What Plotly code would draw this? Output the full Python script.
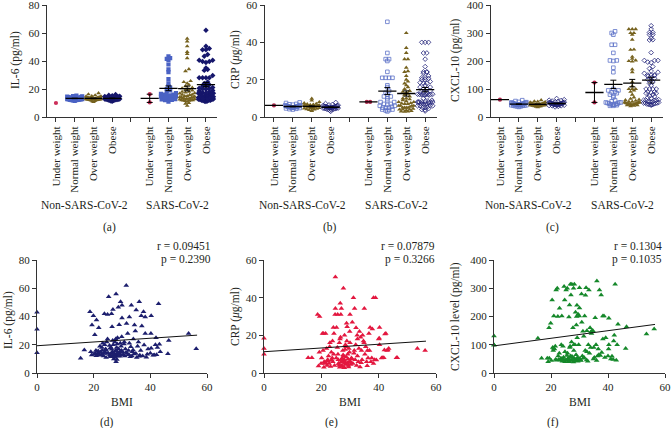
import numpy as np
import plotly.graph_objects as go

W, H = 671, 428
FONT = "Liberation Serif, DejaVu Serif, serif"
TXT = "#231f20"

groups = ["Under weight", "Normal weight", "Over weight", "Obese"]
cohorts = ["Non-SARS-CoV-2", "SARS-CoV-2"]
panel_labels = ["(a)", "(b)", "(c)", "(d)", "(e)", "(f)"]
top_titles = ["IL-6 (pg/ml)", "CRP (<i>μ</i>g/ml)", "CXCL-10 (pg/ml)"]
bottom_titles = ["IL-6 (pg/ml)", "CRP (<i>μ</i>g/ml)", "CXCL-10 level (pg/ml)"]
r_text = ["0.09451", "0.07879", "0.1304"]
p_text = ["0.2390", "0.3266", "0.1035"]

# SARS-CoV-2 patients (BMI and marker levels)
bmi = [15.4, 16.7, 0, 0, 0,
       18.7, 19.0, 19.3, 19.4, 19.9, 20.4, 20.6, 20.8, 21.0, 21.2,
       21.5, 21.8, 22.0, 22.2, 22.5, 22.7, 23.0, 23.2, 23.5, 23.8,
       24.0, 24.2, 24.4, 24.6, 24.8, 24.9, 20.1, 21.6, 22.9, 23.6,
       24.3, 20.9, 22.4, 23.9, 25.3, 24.9, 25.7, 25.9, 26.1, 26.3,
       26.5, 26.6, 26.8, 26.9, 27.0, 27.1, 27.2, 27.3, 27.5, 27.7,
       27.8, 27.9, 27.9, 28.0, 28.1, 28.2, 28.4, 28.5, 28.6, 28.7,
       28.8, 29.0, 29.0, 29.2, 29.3, 29.4, 29.5, 29.6, 29.7, 29.8,
       29.9, 25.2, 25.8, 26.2, 26.7, 27.4, 28.3, 28.9, 26.4, 27.6,
       29.1, 25.6, 27.0, 28.0, 26.0, 30.0, 30.0, 30.2, 30.5, 30.8,
       31.0, 31.2, 31.5, 31.6, 31.8, 32.0, 32.3, 32.5, 32.6, 32.6,
       32.9, 33.1, 33.3, 33.5, 33.7, 34.0, 34.2, 34.4, 34.7, 35.0,
       35.2, 35.5, 35.8, 36.1, 36.3, 36.6, 36.8, 37.0, 37.3, 37.6,
       37.8, 38.2, 38.2, 38.6, 38.9, 39.2, 40.0, 40.2, 40.3, 40.3,
       41.0, 41.4, 41.8, 42.0, 42.2, 42.5, 42.9, 43.2, 43.5, 46.2,
       46.5, 53.5, 56.2, 30.3, 31.4, 33.9, 34.9, 36.0, 30.7, 32.1]
il6 = [10.4, 16.3, 43, 31, 14.4,
       43.4, 15, 12.7, 34, 40.6, 27, 14, 16, 37.5, 13,
       14, 32, 12.5, 19, 14.5, 13, 16, 21, 12, 42,
       15, 17, 11, 22, 14, 41.5, 13.5, 15.5, 18, 13.8,
       16.5, 12.2, 14.8, 20, 54, 24, 13, 12, 18, 42,
       32.8, 15, 45, 20, 12.5, 10, 11.6, 14, 22, 16,
       24, 56, 8, 13, 18, 9.5, 25, 14.5, 12, 46.5,
       17, 34.2, 13.5, 11.8, 15, 21, 50.5, 13, 19, 16,
       25.7, 14, 17.5, 13.8, 23, 12, 20.5, 14.2, 16.8, 11,
       12.8, 19.5, 13.2, 15.8, 11.5, 48, 39, 15, 13, 22,
       12, 17, 62, 35, 14, 28, 16, 13, 39.6, 21,
       11.5, 18.5, 48, 12, 15, 24, 13.5, 34, 29.7, 44.6,
       11, 19, 22, 50.5, 12.5, 16, 40.6, 33.3, 12, 43.4,
       19.8, 39.6, 28, 11.2, 13.2, 17, 14, 28, 17.5, 40.6,
       12.5, 12.7, 20, 25, 13, 18, 49, 20.3, 15, 13.7,
       23, 28, 17.2, 12.8, 14.5, 16.2, 13.8, 11.8, 20.5, 13]
crp = [8.1, 8.1, 18.4, 13, 10,
       31, 3.7, 11, 30, 5, 21, 12, 21, 6, 5,
       21, 13, 4, 7, 9, 5, 16, 3.5, 11, 8,
       6, 24.2, 21, 4, 31, 34.3, 8, 5.5, 14, 7,
       10, 3, 6.5, 17, 24.2, 51, 31, 7, 5, 16,
       18, 37, 31, 6, 34.3, 4, 3.5, 8, 12, 45,
       9, 5, 3, 7, 20, 6, 15, 4.5, 14, 8.5,
       26.4, 24.6, 5, 10, 7.5, 4, 3.2, 13, 6, 11,
       22, 8, 10, 4, 19, 6, 12.5, 17, 3, 9.5,
       5.5, 13.5, 7.2, 2.8, 5, 16, 31, 6, 8, 27,
       5, 40, 12, 34.3, 7, 15, 4, 20, 9, 18,
       6, 13, 22, 3.2, 19, 12, 7, 20, 17, 34.3,
       10, 14, 6, 12, 8, 21, 12, 24.2, 6, 8,
       23.4, 40, 5, 7, 40, 6.9, 18, 18.4, 24.2, 15,
       8, 8.1, 8.1, 12.2, 20.7, 21, 11.9, 12.2, 13, 8.1,
       8.1, 13, 12, 4.5, 10.5, 5.5, 16, 3.8, 7.5, 24]
cxcl10 = [123, 52, 131, 99, 99,
          52, 40, 160, 52, 176, 258, 90, 80, 202, 85,
          95, 294, 45, 300, 60, 48, 229, 46, 52, 202,
          42, 95, 56, 306, 258, 40, 44, 48, 70, 100,
          50, 88, 200, 44, 294, 75, 300, 48, 42, 198,
          241, 90, 314, 60, 55, 44, 110, 314, 45, 160,
          50, 39, 300, 80, 52, 314, 100, 47, 215, 43,
          65, 200, 48, 125, 55, 42, 208, 46, 100, 52,
          202, 46, 70, 50, 95, 58, 44, 170, 40, 48,
          240, 62, 276, 100, 52, 230, 302, 50, 44, 180,
          60, 148, 130, 55, 202, 80, 302, 46, 150, 75,
          42, 100, 294, 70, 160, 145, 140, 150, 150, 90,
          55, 196, 100, 326, 60, 85, 65, 294, 62, 276,
          73, 202, 120, 202, 55, 125, 60, 85, 194, 100,
          50, 59, 48, 113, 134, 314, 45, 100, 173, 87,
          164, 138, 156, 46, 52, 90, 50, 44, 280, 275]

# Non-SARS-CoV-2 controls
ctrl_il6_under = [10.0]
ctrl_il6_normal = [12.1, 12.5, 12.8, 13.0, 13.2, 13.5, 13.8, 14.2, 14.6, 15.0, 11.8, 12.3, 12.9, 13.1, 13.4,
                   13.7, 14.0, 14.4, 12.0, 12.6, 13.3, 13.6, 12.7, 13.9, 15.3, 11.5, 12.4, 13.0, 14.8, 13.2,
                   12.2, 13.5, 14.1, 12.9, 13.3]
ctrl_il6_over = [10.8, 11.5, 12.0, 12.3, 12.6, 12.9, 13.1, 13.3, 13.6, 13.9, 14.3, 14.8, 15.5, 16.2, 17.0,
                 11.8, 12.2, 12.5, 12.8, 13.0, 13.2, 13.5, 13.8, 14.1, 14.6, 12.4, 12.7, 13.0, 13.4, 12.9,
                 11.2, 13.7, 12.1, 14.0, 15.0]
ctrl_il6_obese = [11.2, 11.8, 12.2, 12.5, 12.8, 13.0, 13.2, 13.4, 13.7, 14.0, 14.4, 14.9, 15.5, 16.0, 12.0,
                  12.4, 12.7, 12.9, 13.1, 13.3, 13.6, 13.9, 14.2, 12.6, 13.0, 13.5, 12.3, 14.6, 11.5, 13.8,
                  12.9, 13.2, 15.2, 12.1, 13.4, 14.1, 12.8, 13.6]
ctrl_crp_under = [6.2]
ctrl_crp_normal = [4.0, 4.4, 4.8, 5.0, 5.2, 5.4, 5.6, 5.8, 6.0, 6.3, 6.6, 7.0, 7.5, 4.6, 5.1, 5.3, 5.5, 5.7,
                   5.9, 6.1, 4.2, 4.9, 5.4, 6.4, 6.8, 5.2, 5.6, 7.8, 5.0, 5.8]
ctrl_crp_over = [3.2, 3.8, 4.2, 4.6, 4.9, 5.1, 5.3, 5.5, 5.7, 5.9, 6.2, 6.5, 6.9, 7.4, 8.0, 8.8, 9.8, 4.4,
                 5.0, 5.4, 5.6, 5.8, 6.0, 6.3, 4.8, 5.2, 5.5, 6.7, 3.6, 7.1, 5.9, 4.1, 6.1, 5.3]
ctrl_crp_obese = [3.0, 3.6, 4.0, 4.3, 4.6, 4.8, 5.0, 5.2, 5.4, 5.6, 5.8, 6.0, 6.3, 6.7, 7.2, 7.8, 4.5, 4.9,
                  5.1, 5.3, 5.5, 5.7, 4.2, 4.7, 5.0, 5.4, 5.9, 6.5, 3.8, 5.2, 4.4, 6.1, 5.6, 4.9]
ctrl_cxcl10_under = [62]
ctrl_cxcl10_normal = [36, 38, 40, 41, 42, 43, 44, 45, 46, 47, 48, 49, 50, 52, 54, 57, 60, 39, 42, 44, 45, 46,
                      47, 43, 41, 48, 50, 45, 44, 53, 38, 46, 51, 43, 47]
ctrl_cxcl10_over = [35, 37, 39, 40, 41, 42, 43, 44, 45, 46, 47, 48, 49, 51, 53, 56, 60, 38, 42, 44, 45, 46,
                    43, 41, 47, 50, 45, 44, 52, 39, 48, 46, 43, 55, 42]
ctrl_cxcl10_obese = [36, 38, 40, 42, 43, 44, 45, 46, 47, 48, 49, 50, 51, 52, 54, 56, 59, 62, 66, 41, 44, 46,
                     47, 48, 49, 45, 50, 43, 53, 47, 40, 57, 48, 45, 51, 46, 60, 44]

# Linear fits (value at BMI 0 and at BMI 56.5)
fit_bmi = [0, 56.5]
il6_fit = [19.3, 26.8]
crp_fit = [11.3, 16.9]
cxcl10_fit = [96, 172]

y_max = [80, 60, 400]
y_step = [20, 20, 100]

# ---------------------------------------------------------------
n = min(len(bmi), len(il6), len(crp), len(cxcl10))
bmi_a = np.array(bmi[:n], float)
sars_vals = [np.array(il6[:n], float), np.array(crp[:n], float), np.array(cxcl10[:n], float)]
ctrl_vals = [
    [ctrl_il6_under, ctrl_il6_normal, ctrl_il6_over, ctrl_il6_obese],
    [ctrl_crp_under, ctrl_crp_normal, ctrl_crp_over, ctrl_crp_obese],
    [ctrl_cxcl10_under, ctrl_cxcl10_normal, ctrl_cxcl10_over, ctrl_cxcl10_obese],
]


def bmi_class(b):
    if b < 18.5:
        return 0
    if b < 25:
        return 1
    if b < 30:
        return 2
    return 3


cls = np.array([bmi_class(b) if b > 0 else -1 for b in bmi_a])

colors = ["#cc2f5a", "#4a62c4", "#76621f", "#15166b"]
open_colors = ["#b0284e", "#5d72c8", "#76621f", "#22237a"]
sym_a = ["circle", "square", "triangle-up", "diamond"]
sym_bc = ["circle", "square-open", "triangle-up", "diamond-open"]

TOP_H_PX = 112.0
X_PX = 18.85


def swarm(values, pos, ymax):
    v = np.asarray(values, float)
    xs = np.full(len(v), float(pos))
    if len(v) == 0:
        return xs
    pxu = TOP_H_PX / ymax
    bins = np.floor(v * pxu / 3.0).astype(int)
    for b in np.unique(bins):
        idx = np.where(bins == b)[0]
        k = len(idx)
        if k == 1:
            continue
        idx = idx[np.argsort(v[idx])]
        dx = 3.4 / X_PX
        halfw = 0.40
        if (k - 1) * dx / 2 > halfw:
            dx = 2 * halfw / (k - 1)
        slots = (np.arange(k) - (k - 1) / 2) * dx
        order = np.argsort(np.abs(slots), kind="stable")
        xs[idx] = pos + slots[order]
    return xs


fig = go.Figure()

top_x_px = [(46.6, 217.2), (264.5, 436.5), (490.5, 662.5)]
top_y_px = (5, 117)
bot_x_px = [(37, 207), (264, 436), (494, 665)]
bot_y_px = (260, 373)


def xd(a, b):
    return [a / W, b / W]


def yd(top, bot):
    return [1 - bot / H, 1 - top / H]


tickvals_top = [1, 2, 3, 4, 5, 6, 7, 8, 9]
ticktext_top = groups + [""] + groups

for p in range(3):
    ax = "" if p == 0 else str(p + 1)
    xref, yref = "x" + ax, "y" + ax
    syms = sym_a if p == 0 else sym_bc
    for c in range(2):
        for g in range(4):
            pos = 1 + g + 5 * c
            if c == 0:
                vals = np.array(ctrl_vals[p][g], float)
            else:
                vals = sars_vals[p][cls == g]
            xs = swarm(vals, pos, y_max[p])
            sym = syms[g]
            is_open = "open" in sym
            col = open_colors[g] if p > 0 else colors[g]
            fig.add_trace(go.Scatter(
                x=xs, y=vals, mode="markers", xaxis=xref, yaxis=yref, showlegend=False,
                marker=dict(symbol=sym, size=3.6 if is_open else 4.2, color=col,
                            line=dict(width=0.8 if is_open else 0, color=col)),
                hoverinfo="skip"))
            if len(vals) == 0:
                continue
            if p == 0 and c == 0 and g == 0:
                continue
            m = float(np.mean(vals))
            sem = float(np.std(vals, ddof=1) / np.sqrt(len(vals))) if len(vals) > 1 else 0.0
            fig.add_trace(go.Scatter(
                x=[pos], y=[m], mode="markers", xaxis=xref, yaxis=yref, showlegend=False,
                marker=dict(symbol="line-ew", size=13, color="black", line=dict(width=1.3, color="black")),
                error_y=dict(type="data", array=[sem], visible=sem > 0, color="black", thickness=1, width=3),
                hoverinfo="skip"))

bot_colors = ["#1d1f6e", "#e3173f", "#15882a"]
fits = [il6_fit, crp_fit, cxcl10_fit]
for p in range(3):
    ax = str(p + 4)
    fig.add_trace(go.Scatter(
        x=bmi_a, y=sars_vals[p], mode="markers", xaxis="x" + ax, yaxis="y" + ax, showlegend=False,
        marker=dict(symbol="triangle-up", size=5, color=bot_colors[p], line=dict(width=0)),
        cliponaxis=False, hoverinfo="skip"))
    fig.add_trace(go.Scatter(
        x=fit_bmi, y=fits[p], mode="lines", xaxis="x" + ax, yaxis="y" + ax, showlegend=False,
        line=dict(color="#111", width=1), hoverinfo="skip"))

axis_common = dict(showline=True, linecolor="#333", linewidth=1, ticks="outside", ticklen=4,
                   tickcolor="#333", tickwidth=1, showgrid=False, zeroline=False, automargin=False,
                   ticklabeloverflow="allow",
                   tickfont=dict(family=FONT, size=11, color=TXT))

layout = dict(width=W, height=H, margin=dict(l=0, r=0, t=0, b=0, pad=0),
              paper_bgcolor="white", plot_bgcolor="white", showlegend=False)

for p in range(3):
    ax = "" if p == 0 else str(p + 1)
    layout["xaxis" + ax] = dict(axis_common, domain=xd(*top_x_px[p]), range=[0.5, 9.6],
                                tickvals=tickvals_top, ticktext=ticktext_top, tickangle=-90,
                                anchor="y" + ax)
    layout["yaxis" + ax] = dict(axis_common, domain=yd(*top_y_px), range=[0, y_max[p]],
                                tickvals=list(range(0, y_max[p] + 1, y_step[p])), anchor="x" + ax)
for p in range(3):
    ax = str(p + 4)
    layout["xaxis" + ax] = dict(axis_common, domain=xd(*bot_x_px[p]), range=[0, 60],
                                tickvals=[0, 20, 40, 60], anchor="y" + ax)
    layout["yaxis" + ax] = dict(axis_common, domain=yd(*bot_y_px), range=[0, y_max[p]],
                                tickvals=list(range(0, y_max[p] + 1, y_step[p])), anchor="x" + ax)

ann = []
tf = dict(family=FONT, size=11.5, color=TXT)
for p, xp in enumerate([15, 235, 455]):
    ann.append(dict(text=top_titles[p], x=xp / W, y=1 - 60 / H, xref="paper", yref="paper",
                    textangle=-90, showarrow=False, font=tf, xanchor="center", yanchor="middle"))
for p in range(3):
    ax = "x" if p == 0 else "x" + str(p + 1)
    for c in range(2):
        ann.append(dict(text=cohorts[c], x=2.5 + 5 * c, y=1 - 205 / H, xref=ax, yref="paper",
                        showarrow=False, font=tf, xanchor="center", yanchor="middle"))
for i, (xp, yp) in enumerate([(110, 227), (330, 227), (552, 227), (107, 422), (331, 422), (553, 422)]):
    ann.append(dict(text=panel_labels[i], x=xp / W, y=1 - yp / H, xref="paper", yref="paper",
                    showarrow=False, font=tf, xanchor="center", yanchor="middle"))
for p, (xp, yp) in enumerate([(8, 320), (235, 317), (455, 317)]):
    ann.append(dict(text=bottom_titles[p], x=xp / W, y=1 - yp / H, xref="paper", yref="paper",
                    textangle=-90, showarrow=False, font=tf, xanchor="center", yanchor="middle"))
for p, xp in enumerate([122, 350, 580]):
    ann.append(dict(text="BMI", x=xp / W, y=1 - 402 / H, xref="paper", yref="paper",
                    showarrow=False, font=tf, xanchor="center", yanchor="middle"))
for p, xp in enumerate([213, 437, 664]):
    ann.append(dict(text="r = " + r_text[p], x=xp / W, y=1 - 246 / H, xref="paper", yref="paper",
                    showarrow=False, font=tf, xanchor="right", yanchor="middle"))
    ann.append(dict(text="p = " + p_text[p], x=xp / W, y=1 - 259 / H, xref="paper", yref="paper",
                    showarrow=False, font=tf, xanchor="right", yanchor="middle"))
layout["annotations"] = ann

fig.update_layout(**layout)
fig.write_html("out.html", config={"displayModeBar": False, "staticPlot": True},
               post_script="document.body.style.margin='0';document.body.style.padding='0';"
                           "document.body.style.overflow='hidden';")
